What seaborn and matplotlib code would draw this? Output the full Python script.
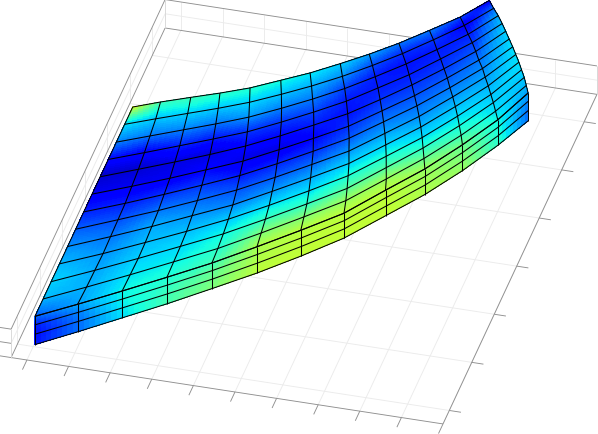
import numpy as np
import matplotlib
matplotlib.use("Agg")
import matplotlib.pyplot as plt
import seaborn as sns

sns.set_theme(style="white")

x_ticks = list(range(11))
y_ticks = list(range(7))
z_ticks = [0, 1, 2]
x_lim = (-0.38, 10)
y_lim = (-0.28, 6.57)
z_lim = (0, 2)

# Mesh nodes of the top face: one row per column of the mesh (13 x 13).
node_x = np.array([
[0.02,0.02,0.02,0.02,0.02,0.02,0.02,0.02,0.02,0.02,0.02,0.02,0.02],
[0.85,0.87,0.88,0.89,0.88,0.87,0.86,0.83,0.80,0.76,0.71,0.66,0.59],
[1.71,1.72,1.73,1.72,1.70,1.68,1.64,1.60,1.54,1.48,1.40,1.32,1.22],
[2.57,2.56,2.55,2.53,2.49,2.45,2.39,2.32,2.25,2.16,2.06,1.95,1.83],
[3.43,3.41,3.38,3.34,3.29,3.22,3.14,3.06,2.96,2.85,2.73,2.59,2.45],
[4.27,4.22,4.17,4.11,4.03,3.95,3.85,3.75,3.63,3.51,3.37,3.22,3.06],
[5.08,5.01,4.94,4.85,4.75,4.64,4.53,4.40,4.27,4.13,3.97,3.81,3.64],
[5.87,5.78,5.68,5.57,5.46,5.33,5.20,5.06,4.91,4.75,4.58,4.40,4.22],
[6.56,6.46,6.34,6.22,6.09,5.95,5.80,5.65,5.49,5.32,5.14,4.96,4.77],
[7.22,7.09,6.96,6.83,6.69,6.54,6.38,6.22,6.05,5.88,5.70,5.51,5.32],
[7.81,7.68,7.54,7.40,7.25,7.09,6.93,6.77,6.60,6.42,6.24,6.06,5.87],
[8.34,8.20,8.06,7.92,7.77,7.61,7.46,7.29,7.13,6.96,6.78,6.60,6.42],
[8.74,8.62,8.49,8.35,8.21,8.06,7.91,7.75,7.59,7.43,7.26,7.08,6.90]])
node_y = np.array([
[0.04,0.40,0.76,1.13,1.49,1.85,2.21,2.58,2.94,3.30,3.66,4.03,4.39],
[0.40,0.76,1.11,1.46,1.81,2.16,2.50,2.85,3.20,3.54,3.88,4.23,4.57],
[0.79,1.13,1.47,1.80,2.13,2.46,2.79,3.12,3.45,3.78,4.10,4.43,4.75],
[1.19,1.51,1.83,2.14,2.46,2.77,3.08,3.39,3.70,4.01,4.31,4.62,4.92],
[1.60,1.90,2.20,2.50,2.79,3.09,3.38,3.67,3.97,4.25,4.54,4.83,5.11],
[2.05,2.33,2.61,2.89,3.17,3.45,3.72,4.00,4.27,4.54,4.81,5.08,5.35],
[2.50,2.77,3.03,3.29,3.55,3.81,4.07,4.32,4.58,4.83,5.08,5.33,5.58],
[2.96,3.21,3.45,3.70,3.94,4.18,4.43,4.66,4.90,5.14,5.38,5.61,5.85],
[3.53,3.75,3.97,4.19,4.41,4.63,4.85,5.06,5.27,5.49,5.70,5.91,6.12],
[4.06,4.26,4.46,4.66,4.86,5.06,5.26,5.45,5.65,5.84,6.04,6.23,6.42],
[4.64,4.82,5.00,5.18,5.36,5.54,5.71,5.89,6.06,6.24,6.41,6.59,6.76],
[5.23,5.39,5.55,5.70,5.86,6.02,6.18,6.33,6.49,6.65,6.80,6.96,7.11],
[5.84,5.98,6.13,6.27,6.41,6.55,6.69,6.83,6.97,7.11,7.25,7.38,7.52]])
node_value = np.array([
[.23,.31,.33,.30,.26,.21,.15,.10,.07,.14,.26,.35,.62],
[.29,.30,.29,.27,.24,.20,.15,.10,.075,.13,.25,.33,.43],
[.37,.35,.33,.31,.29,.235,.165,.10,.09,.165,.26,.34,.43],
[.39,.36,.34,.31,.27,.225,.175,.12,.085,.155,.25,.33,.41],
[.43,.40,.37,.32,.25,.20,.14,.09,.13,.18,.28,.34,.40],
[.56,.50,.41,.34,.27,.21,.155,.09,.135,.185,.255,.32,.38],
[.57,.50,.40,.34,.29,.225,.165,.125,.155,.195,.25,.30,.36],
[.575,.53,.45,.38,.33,.27,.21,.17,.14,.15,.19,.27,.33],
[.57,.53,.44,.38,.33,.28,.24,.20,.17,.15,.15,.20,.29],
[.53,.46,.39,.34,.30,.26,.23,.20,.17,.15,.14,.17,.25],
[.47,.41,.37,.34,.31,.27,.24,.21,.18,.16,.15,.18,.25],
[.36,.34,.33,.32,.30,.28,.26,.24,.21,.18,.15,.11,.20],
[.27,.30,.32,.34,.35,.35,.35,.34,.34,.32,.30,.23,.08]])

# Front wall: four levels of height under the first node of each column.
wall_z = np.array([
[.01,.06,.11,.13,.20,.15,.18,.25,.20,.20,.18,.20,.04],
[.74,.78,.81,.82,.86,.84,.85,.89,.86,.86,.85,.86,.76],
[1.40,1.42,1.43,1.44,1.46,1.45,1.45,1.47,1.46,1.46,1.45,1.46,1.41],
[2,2,2,2,2,2,2,2,2,2,2,2,2]])
wall_value = np.array([
[.15,.24,.35,.44,.51,.58,.585,.585,.585,.56,.53,.40,.22],
[.14,.24,.36,.43,.49,.57,.58,.585,.58,.55,.51,.38,.22],
[.16,.26,.37,.41,.47,.56,.58,.58,.58,.54,.49,.37,.24],
[.23,.29,.37,.39,.43,.56,.57,.575,.57,.53,.47,.36,.27]])
top_z = np.full(node_x.shape, 2.0)

SHADING_STEPS = 8


def shade_grid(a):
    """Subdivide a mesh so that its colours blend smoothly across each cell."""
    a = np.asarray(a, float)
    n, m = a.shape
    u = np.linspace(0, n - 1, (n - 1) * SHADING_STEPS + 1)
    v = np.linspace(0, m - 1, (m - 1) * SHADING_STEPS + 1)
    a1 = np.array([np.interp(v, np.arange(m), r) for r in a])
    return np.array([np.interp(u, np.arange(n), c) for c in a1.T]).T


fig = plt.figure(figsize=(5.98, 4.35), dpi=100, facecolor="white")
ax = fig.add_axes([-24.6 / 598, -106.4 / 435, 640 / 598, 640 / 435], projection="3d")
ax.set_proj_type("ortho")
ax.view_init(35, -75)
ax.set_box_aspect((447.2, 595, 34.7), zoom=1.13)
ax.set_xlim(*x_lim, view_margin=0)
ax.set_ylim(*y_lim, view_margin=0)
ax.set_zlim(*z_lim, view_margin=0)
ax.computed_zorder = False
ax.set_axis_off()

GRID = "#ebebeb"
EDGE = "#8f8f8f"
LIGHT = "#d8d8d8"
x0, x1 = x_lim
y0, y1 = y_lim
z0, z1 = z_lim


def line(xs, ys, zs, c, lw=0.65, zo=1):
    ax.plot(xs, ys, zs, color=c, lw=lw, zorder=zo, solid_capstyle="butt")


for v in x_ticks:
    line([v, v], [y0, y1], [z0, z0], GRID)
    line([v, v], [y1, y1], [z0, z1], GRID)
    line([v, v], [y0 - 0.2, y0], [z0, z0], EDGE)
for v in y_ticks:
    line([x0, x1], [v, v], [z0, z0], GRID)
    line([x0, x0], [v, v], [z0, z1], GRID)
    line([x1, x1 + 0.28], [v, v], [z0, z0], EDGE)
for v in z_ticks:
    if v not in z_lim:
        line([x0, x0], [y0, y1], [v, v], GRID)
        line([x0, x1], [y1, y1], [v, v], GRID)
    line([x0 - 0.27, x0], [y0, y0], [v, v], EDGE)
for a, b in [((x0, y0), (x0, y1)), ((x0, y1), (x1, y1)), ((x0, y0), (x1, y0)), ((x1, y0), (x1, y1))]:
    line([a[0], b[0]], [a[1], b[1]], [z0, z0], EDGE)
line([x0, x0], [y0, y1], [z1, z1], EDGE)
line([x0, x1], [y1, y1], [z1, z1], EDGE)
for a in [(x0, y0), (x0, y1), (x1, y1)]:
    line([a[0]] * 2, [a[1]] * 2, [z0, z1], LIGHT)

cmap = plt.get_cmap("jet")
wall_x = np.tile(node_x[:, 0], (4, 1))
wall_y = np.tile(node_y[:, 0], (4, 1))
for XX, YY, ZZ, VV in [(node_x, node_y, top_z, node_value), (wall_x, wall_y, wall_z, wall_value)]:
    ax.plot_surface(shade_grid(XX), shade_grid(YY), shade_grid(ZZ), facecolors=cmap(shade_grid(VV)),
                    rstride=1, cstride=1, shade=False, linewidth=0, antialiased=False, zorder=2)
    for r in range(XX.shape[0]):
        line(XX[r], YY[r], ZZ[r], "black", 0.75, 3)
    for c in range(XX.shape[1]):
        line(XX[:, c], YY[:, c], ZZ[:, c], "black", 0.75, 3)

fig.savefig("out.png", dpi=100)
